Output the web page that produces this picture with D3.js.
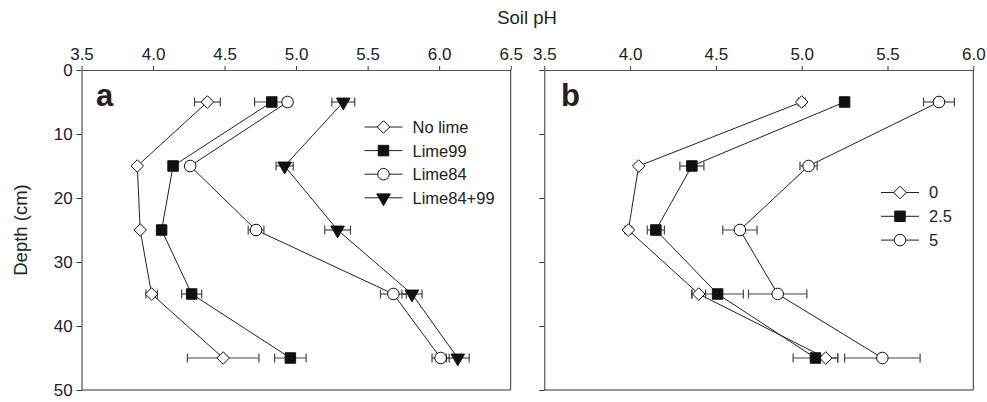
<!DOCTYPE html>
<html>
<head>
<meta charset="utf-8">
<script src="https://cdn.jsdelivr.net/npm/d3@7"></script>
<style>
  body { margin: 0; background: #fff; }
  svg text { font-family: "Liberation Sans", Arial, sans-serif; fill: #222; }
</style>
</head>
<body>
<svg id="chart" width="987" height="402"></svg>
<script>
// depths sampled (cm)
var depths = [5, 15, 25, 35, 45];

// panel a: lime treatments
var seriesA = ["No lime", "Lime99", "Lime84", "Lime84+99"];
var noLime = [4.38, 3.89, 3.91, 3.99, 4.49];
var noLimeErr = [0.09, 0.0, 0.0, 0.04, 0.25];
var lime99 = [4.83, 4.14, 4.06, 4.27, 4.96];
var lime99Err = [0.12, 0.0, 0.0, 0.07, 0.11];
var lime84 = [4.94, 4.26, 4.72, 5.68, 6.01];
var lime84Err = [0.03, 0.0, 0.055, 0.09, 0.06];
var lime8499 = [5.33, 4.92, 5.29, 5.81, 6.13];
var lime8499Err = [0.08, 0.06, 0.09, 0.07, 0.08];

// panel b: rates
var seriesB = ["0", "2.5", "5"];
var rate0 = [5.00, 4.05, 3.99, 4.40, 5.14];
var rate0Err = [0.02, 0.0, 0.02, 0.04, 0.07];
var rate25 = [5.25, 4.36, 4.15, 4.51, 5.08];
var rate25Err = [0.0, 0.07, 0.05, 0.15, 0.13];
var rate5 = [5.80, 5.04, 4.64, 4.86, 5.47];
var rate5Err = [0.09, 0.05, 0.10, 0.17, 0.22];

var ticksA = [3.5, 4.0, 4.5, 5.0, 5.5, 6.0, 6.5];
var ticksB = [3.5, 4.0, 4.5, 5.0, 5.5, 6.0];
var depthTicks = [0, 10, 20, 30, 40, 50];

var svg = d3.select('#chart');

var y = d3.scaleLinear().domain([0, 50]).range([70, 390]);
var xA = d3.scaleLinear().domain([3.5, 6.5]).range([81.5, 510.7]);
var xB = d3.scaleLinear().domain([3.5, 6.0]).range([544.3, 973.3]);

//marker shapes
var markers = {
  diamond: {type: d3.symbolDiamond2, size: 100, fill: '#fff'},
  square: {type: d3.symbolSquare, size: 110, fill: '#111'},
  circle: {type: d3.symbolCircle, size: 105, fill: '#fff'},
  triangle: {type: d3.symbolTriangle, size: 80, fill: '#111', flip: true}
};

function drawMarker(g, cx, cy, m) {
  var sym = d3.symbol().type(m.type).size(m.size);
  g.append('path')
    .attr('d', sym())
    .attr('transform', 'translate(' + cx + ',' + cy + ')' + (m.flip ? ' rotate(180)' : ''))
    .attr('fill', m.fill)
    .attr('stroke', '#111')
    .attr('stroke-width', 1);
}

function panel(x, ticks, showLabels, series, label, labelX) {
  var g = svg.append('g');
  var xMin = x.range()[0], xMax = x.range()[1];

  //top axis (ticks outward)
  var top = g.append('g').attr('transform', 'translate(0,' + y(0) + ')')
    .call(d3.axisTop(x).tickValues(ticks).tickSize(4).tickSizeOuter(0).tickFormat(d3.format('.1f')));
  top.select('.domain').attr('stroke', '#555');
  top.selectAll('.tick line').attr('stroke', '#333');
  top.selectAll('.tick text').attr('font-size', 17).attr('dy', '-0.2em');

  //left axis
  var left = g.append('g').attr('transform', 'translate(' + xMin + ',0)')
    .call(d3.axisLeft(y).tickValues(depthTicks).tickSize(5).tickSizeOuter(0)
      .tickFormat(showLabels ? d3.format('d') : ''));
  left.select('.domain').attr('stroke', '#333');
  left.selectAll('.tick line').attr('stroke', '#333');
  left.selectAll('.tick text').attr('font-size', 17).attr('dx', '-0.05em');

  //frame right + bottom
  g.append('line').attr('x1', xMax).attr('x2', xMax).attr('y1', y(0)).attr('y2', y(50)).attr('stroke', '#333');
  g.append('line').attr('x1', xMin).attr('x2', xMax).attr('y1', y(50)).attr('y2', y(50)).attr('stroke', '#333');

  g.append('text').attr('x', labelX).attr('y', 106)
    .attr('font-size', 31).attr('font-weight', 'bold').text(label);

  var line = d3.line().x(function(d) { return x(d.v); }).y(function(d) { return y(d.d); });

  series.forEach(function(s) {
    var pts = depths.map(function(d, i) { return {d: d, v: s.values[i], e: s.err[i]}; });
    g.append('path').datum(pts).attr('d', line)
      .attr('fill', 'none').attr('stroke', '#222').attr('stroke-width', 1);
  });

  series.forEach(function(s) {
    depths.forEach(function(d, i) {
      var e = s.err[i];
      if (!e) return;
      var v = s.values[i], yy = y(d);
      var eb = g.append('g').attr('stroke', '#444').attr('stroke-width', 1.2);
      eb.append('line').attr('x1', x(v - e)).attr('x2', x(v + e)).attr('y1', yy).attr('y2', yy);
      eb.append('line').attr('x1', x(v - e)).attr('x2', x(v - e)).attr('y1', yy - 4.5).attr('y2', yy + 4.5);
      eb.append('line').attr('x1', x(v + e)).attr('x2', x(v + e)).attr('y1', yy - 4.5).attr('y2', yy + 4.5);
    });
  });

  series.forEach(function(s) {
    depths.forEach(function(d, i) {
      drawMarker(g, x(s.values[i]), y(d), markers[s.marker]);
    });
  });
  return g;
}

function legend(items, lx, ly, rowH) {
  var g = svg.append('g');
  items.forEach(function(it, i) {
    var yy = ly + i * rowH;
    g.append('line').attr('x1', lx).attr('x2', lx + 38).attr('y1', yy).attr('y2', yy)
      .attr('stroke', '#222');
    drawMarker(g, lx + 19, yy, markers[it.marker]);
    g.append('text').attr('x', lx + 48).attr('y', yy).attr('dy', '0.36em')
      .attr('font-size', 16.5).text(it.name);
  });
}

var dataA = [
  {name: seriesA[0], values: noLime, err: noLimeErr, marker: 'diamond'},
  {name: seriesA[1], values: lime99, err: lime99Err, marker: 'square'},
  {name: seriesA[2], values: lime84, err: lime84Err, marker: 'circle'},
  {name: seriesA[3], values: lime8499, err: lime8499Err, marker: 'triangle'}
];
var dataB = [
  {name: seriesB[0], values: rate0, err: rate0Err, marker: 'diamond'},
  {name: seriesB[1], values: rate25, err: rate25Err, marker: 'square'},
  {name: seriesB[2], values: rate5, err: rate5Err, marker: 'circle'}
];

panel(xA, ticksA, true, dataA, 'a', 96);
panel(xB, ticksB, false, dataB, 'b', 561);

legend(dataA, 364.5, 127, 23.6);
legend(dataB, 881, 192.5, 23.8);

svg.append('text').attr('x', 527).attr('y', 24).attr('text-anchor', 'middle')
  .attr('font-size', 18.5).text('Soil pH');
svg.append('text').attr('transform', 'translate(27,230) rotate(-90)').attr('text-anchor', 'middle')
  .attr('font-size', 18.5).text('Depth (cm)');
</script>
</body>
</html>
